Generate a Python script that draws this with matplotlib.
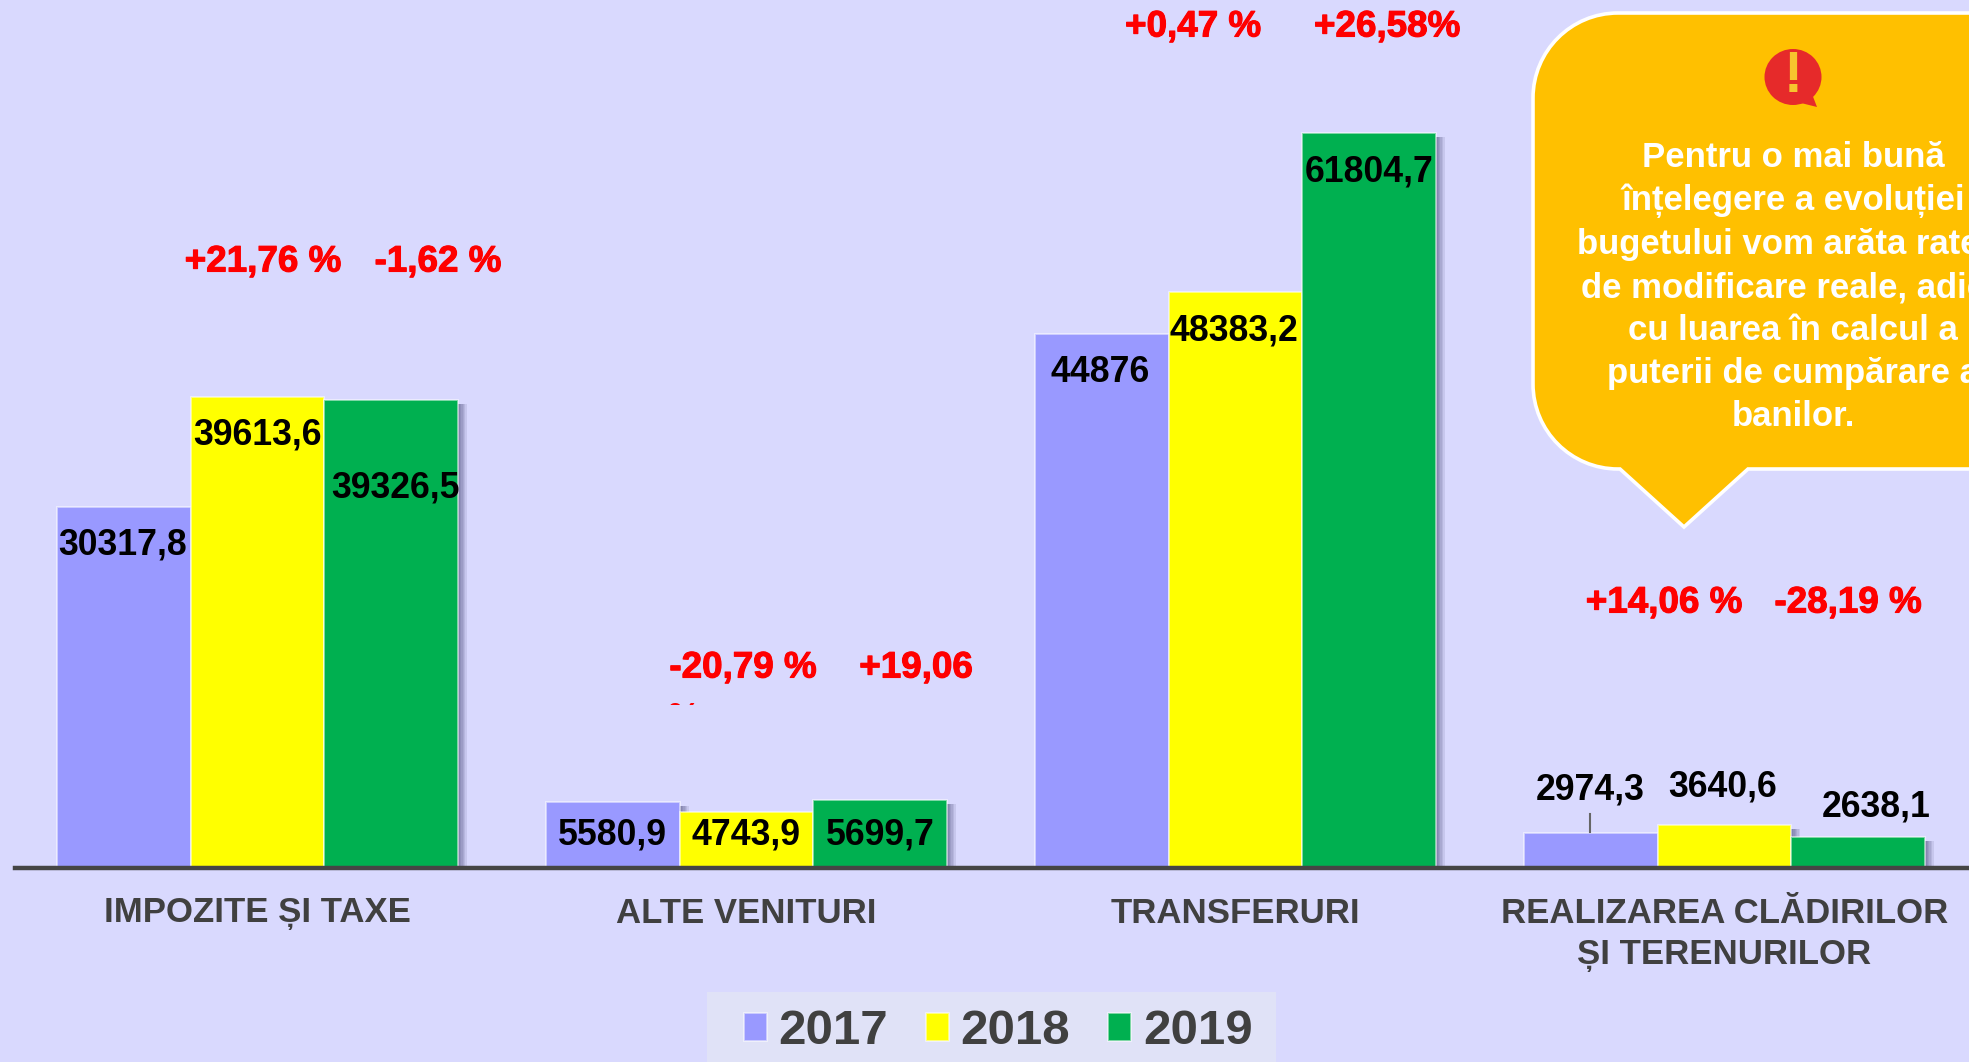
import matplotlib
matplotlib.use("Agg")
import matplotlib.pyplot as plt
from matplotlib.patches import PathPatch, Ellipse, Polygon, Rectangle
from matplotlib.path import Path
from matplotlib.transforms import Affine2D, Bbox
import matplotlib.patheffects as pe

categories = ["IMPOZITE ȘI TAXE", "ALTE VENITURI", "TRANSFERURI", "REALIZAREA CLĂDIRILOR\nȘI TERENURILOR"]
years = ["2017", "2018", "2019"]
v2017 = [30317.8, 5580.9, 44876, 2974.3]
v2018 = [39613.6, 4743.9, 48383.2, 3640.6]
v2019 = [39326.5, 5699.7, 61804.7, 2638.1]
pct_labels = ["+21,76 %", "-1,62 %", "-20,79 %", "+19,06", "+0,47 %", "+26,58%", "+14,06 %", "-28,19 %"]
note = ("Pentru o mai bună\nînțelegere a evoluției\nbugetului vom arăta ratele\nde modificare reale, adică\n"
        "cu luarea în calcul a\nputerii de cumpărare a\nbanilor.")

colors = ["#9999ff", "#ffff00", "#00b050"]
BG = "#d9d9fe"
W, H = 1969, 1062
plt.rcParams["font.family"] = ["Liberation Sans", "DejaVu Sans"]
plt.rcParams["font.weight"] = "bold"

fig = plt.figure(figsize=(W / 100, H / 100), dpi=100, facecolor=BG)
px = Affine2D().scale(1 / W, -1 / H).translate(0, 1) + fig.transFigure
base_y = 868
ax = fig.add_axes([15 / W, 1 - base_y / H, (W - 15) / W, base_y / H])
ax.set_facecolor("none")
ax.set_xlim(-0.496, 3.5)
ax.set_ylim(0, 72950)
for s in ["top", "left", "right"]:
    ax.spines[s].set_visible(False)
ax.spines["bottom"].set_linewidth(3.2)
ax.spines["bottom"].set_color("#454545")
ax.spines["bottom"].set_zorder(10)
ax.set_yticks([])
ax.set_xticks(range(4))
ax.set_xticklabels(categories, fontsize=25, color="#404040", linespacing=1.3)
ax.tick_params(axis="x", length=0, pad=21)

bw = 0.273
shadow = [pe.SimplePatchShadow(offset=(o, -3), alpha=0.1, shadow_rgbFace="#303060") for o in (6.4, 5.4, 4.4, 3.4, 2.4, 1.4)] + [pe.Normal()]
bars = []
for i, vals in enumerate([v2017, v2018, v2019]):
    b = ax.bar([k + (i - 1) * bw for k in range(4)], vals, bw, color=colors[i],
               edgecolor=(1, 1, 1, 0.55), linewidth=1.3, zorder=2 + i, label=years[i])
    for r in b:
        r.set_path_effects(shadow)
    bars.append(b)

def fmt(v):
    return f"{v:.1f}".replace(".", ",").replace(",0", "")

label_px = [[(123, 545), (612, 835), (1100, 373), (1590, 790)],
            [(257, 435), (746, 835), (1234, 331), (1723, 787)],
            [(395, 488), (880, 835), (1369, 172), (1876, 807)]]
for vals, pos in zip([v2017, v2018, v2019], label_px):
    for v, (x, y) in zip(vals, pos):
        fig.text(x, y, fmt(v), transform=px, ha="center", va="center", fontsize=25.7, color="black", zorder=20)
fig.add_artist(plt.Line2D([1590, 1590], [814, 832], transform=px, color="#666666", lw=1.5))

heavy = [pe.withStroke(linewidth=0.8, foreground="#ff0000")]
pct_px = [(263, 262), (438, 262), (743, 668), (916, 668), (1193, 27), (1387, 27), (1664, 603), (1848, 603)]
for s, (x, y) in zip(pct_labels, pct_px):
    fig.text(x, y, s, transform=px, ha="center", va="center", fontsize=26.5, color="#ff0000", path_effects=heavy)
frag = fig.text(683, 702, "%", transform=px, ha="center", va="top", fontsize=26.5, color="#ff0000", clip_on=True)
frag.set_clip_box(Bbox([[0, H - 705], [W, H]]))

# callout
L, T, R, B, r = 1533, 13, 2010, 469, 85
k = 0.5523 * r
verts = [(R, T), (L + r, T), (L + r - k, T), (L, T + r - k), (L, T + r), (L, B - r), (L, B - r + k), (L + r - k, B), (L + r, B),
         (1620, B), (1684, 527), (1748, B), (R, B), (R, T)]
codes = [Path.MOVETO, Path.LINETO, Path.CURVE4, Path.CURVE4, Path.CURVE4, Path.LINETO, Path.CURVE4, Path.CURVE4, Path.CURVE4,
         Path.LINETO, Path.LINETO, Path.LINETO, Path.LINETO, Path.CLOSEPOLY]
fig.add_artist(PathPatch(Path(verts, codes), transform=px, facecolor="#ffc000", edgecolor="white", lw=2.6, zorder=5))
fig.add_artist(Ellipse((1793, 77), 57, 56, transform=px, facecolor="#e62a2a", edgecolor="none", zorder=6))
fig.add_artist(Polygon([(1797, 102), (1812, 94), (1817, 107)], closed=True, transform=px, facecolor="#e62a2a", edgecolor="none", zorder=6))
fig.text(1793, 77, "!", transform=px, ha="center", va="center", fontsize=41, color="#f7c52e", zorder=7)
fig.text(1793, 287, note, transform=px, ha="center", va="center", fontsize=25, color="white", linespacing=1.385, zorder=7)

fig.add_artist(Rectangle((707, 992), 569, 70, transform=px, facecolor="#e0e2f7", edgecolor="none", zorder=-1))
leg = ax.legend(handles=[b[0] for b in bars], labels=years, loc="center", bbox_to_anchor=(998, 1032), bbox_transform=px,
                ncol=3, fontsize=35.5, frameon=False,
                handlelength=0.47, handleheight=0.47, handletextpad=0.24, columnspacing=0.76, borderpad=0.3,
                labelcolor="#404040", borderaxespad=0)
leg.set_clip_on(False)
for h in leg.legend_handles:
    h.set_path_effects([pe.Normal()])
fig.savefig("out.png", dpi=100, facecolor=BG)
